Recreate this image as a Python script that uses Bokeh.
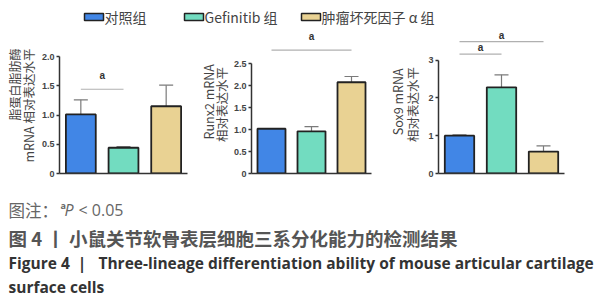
import math
from bokeh.plotting import figure
from bokeh.layouts import column, row
from bokeh.models import (ColumnDataSource, FactorRange, Range1d, Whisker, TeeHead,
                          FixedTicker, PrintfTickFormatter)
from bokeh.core.properties import value
from bokeh.embed import file_html
from bokeh.resources import INLINE

# ---------------- data ----------------
groups = ["对照组", "Gefinitib 组", "肿瘤坏死因子 α 组"]
colors = ["#4186e6", "#72dcc0", "#e9d293"]

lpl_mean = [1.01, 0.44, 1.15]
lpl_err = [0.25, 0.02, 0.36]
runx2_mean = [1.02, 0.96, 2.08]
runx2_err = [0.0, 0.11, 0.13]
sox9_mean = [1.00, 2.28, 0.58]
sox9_err = [0.02, 0.33, 0.15]

lpl_ticks = [0, 0.5, 1.0, 1.5, 2.0]
runx2_ticks = [0, 0.5, 1.0, 1.5, 2.0, 2.5]
sox9_ticks = [0, 1, 2, 3]

# significance brackets: (group index a, group index b, height)
lpl_sig = [(0, 1, 1.44)]
runx2_sig = [(0, 2, 2.81)]
sox9_sig = [(0, 1, 3.16), (0, 2, 3.49)]
sig_mark = "a"

lpl_label = ["脂蛋白脂肪酶", "mRNA 相对表达水平"]
runx2_label = ["Runx2 mRNA", "相对表达水平"]
sox9_label = ["Sox9 mRNA", "相对表达水平"]

note_prefix = "图注："
note_sup = "a"
note_p = "P"
note_rest = "< 0.05"
caption_cn = "图 4 丨 小鼠关节软骨表层细胞三系分化能力的检测结果"
caption_en1 = "Figure 4\u00a0 |\u00a0\u00a0\u00a0Three-lineage differentiation ability of mouse articular cartilage"
caption_en2 = "surface cells"

CJK = "Noto Sans CJK SC"
LAT = "Open Sans"
PH = 160  # height of the chart row


def blank(width, height):
    f = figure(width=width, height=height, x_range=Range1d(0, width),
               y_range=Range1d(height, 0), min_border=0, toolbar_location=None,
               output_backend="svg", x_axis_type=None, y_axis_type=None, title=None)
    f.xgrid.visible = False
    f.ygrid.visible = False
    f.outline_line_color = None
    return f


def label_fig(width, labels, xs, ys, aligns, sizes):
    f = blank(width, PH)
    for txt, x, y, al, sz in zip(labels, xs, ys, aligns, sizes):
        f.text(x=[x], y=[y], text=[txt], angle=math.pi / 2, text_font=value(CJK),
               text_font_size=sz, text_color="#444444", text_align=al,
               text_baseline="middle")
    return f


def make_panel(mean, err, ticks, fmt, ymax, sig, width, bl, br, a_off):
    p = figure(x_range=FactorRange(*groups, range_padding=0), y_range=Range1d(0, ymax),
               width=width, height=PH, min_border_left=bl, min_border_right=br,
               min_border_top=0, min_border_bottom=13, output_backend="svg",
               toolbar_location=None, title=None)
    src = ColumnDataSource(dict(g=groups, mean=mean, color=colors))
    p.vbar(x="g", top="mean", bottom=0, width=0.7, fill_color="color",
           line_color="#222222", line_width=1.8, source=src)
    wg = [g for g, e in zip(groups, err) if e > 0]
    wl = [m for m, e in zip(mean, err) if e > 0]
    wu = [m + e for m, e in zip(mean, err) if e > 0]
    wsrc = ColumnDataSource(dict(g=wg, lower=wl, upper=wu))
    p.add_layout(Whisker(base="g", lower="lower", upper="upper", source=wsrc,
                         line_color="#7a7a7a", line_width=1.2, lower_head=None,
                         upper_head=TeeHead(size=14, line_color="#7a7a7a", line_width=1.2)))
    x0 = [a + 0.5 for a, b, h in sig]
    x1 = [b + 0.5 for a, b, h in sig]
    hs = [h for a, b, h in sig]
    p.segment(x0=x0, y0=hs, x1=x1, y1=hs, line_color="#b0b0b0", line_width=1.2)
    p.text(x=[(u + v) / 2 for u, v in zip(x0, x1)], y=hs, text=[sig_mark] * len(sig),
           text_font=value("Liberation Sans"), text_font_style="bold",
           text_font_size="10px", text_color="#333333", text_align="center",
           text_baseline="bottom", y_offset=a_off)

    p.xgrid.visible = False
    p.ygrid.visible = False
    p.outline_line_color = None

    ya = p.yaxis[0]
    ya.ticker = FixedTicker(ticks=ticks)
    ya.formatter = PrintfTickFormatter(format=fmt)
    ya.bounds = (0, ticks[-1])
    ya.major_label_overrides = {0: "0"}
    ya.axis_line_color = "#333333"
    ya.axis_line_width = 1.5
    ya.major_tick_line_color = "#333333"
    ya.major_tick_line_width = 1.5
    ya.major_tick_in = 0
    ya.major_tick_out = 3
    ya.minor_tick_line_color = None
    ya.major_label_standoff = 2
    ya.major_label_text_font = "Liberation Sans"
    ya.major_label_text_font_style = "bold"
    ya.major_label_text_font_size = "9px"
    ya.major_label_text_color = "#444444"

    xa = p.xaxis[0]
    xa.axis_line_color = "#333333"
    xa.axis_line_width = 1.5
    xa.major_tick_line_color = None
    xa.minor_tick_line_color = None
    xa.major_label_text_font_size = "0px"
    xa.major_label_text_alpha = 0
    return p


lab1 = label_fig(38, lpl_label, [14, 28], [24, 24], ["right", "right"], ["12px", "12.5px"])
p1 = make_panel(lpl_mean, lpl_err, lpl_ticks, "%.1f", 2.513, lpl_sig, 157, 21, 8, -8)
lab2 = label_fig(35, runx2_label, [13, 26], [82, 85], ["center", "center"], ["12.5px", "12.5px"])
p2 = make_panel(runx2_mean, runx2_err, runx2_ticks, "%.1f", 3.35, runx2_sig, 155, 19, 14, -8)
lab3 = label_fig(36, sox9_label, [12, 27], [82, 85], ["center", "center"], ["12.5px", "12.5px"])
p3 = make_panel(sox9_mean, sox9_err, sox9_ticks, "%d", 3.89, sox9_sig, 184, 17, 41, -1)

# ---------------- legend ----------------
lg = blank(605, 26)
sw_left = [84, 184, 301]
lg.quad(left=sw_left, right=[l + 19 for l in sw_left], top=[13, 13, 13], bottom=[20, 20, 20],
        fill_color=colors, line_color="#222222", line_width=1.5)
lg.text(x=[l + 20 for l in sw_left], y=[16.5, 16.5, 16.5], text=groups, text_font=value(CJK),
        text_font_size="14px", text_color="#444444", text_baseline="middle")

# ---------------- caption ----------------
cap = blank(605, 114)
cap.text(x=[8], y=[23], text=[note_prefix], text_font=value(CJK), text_font_size="16.5px",
         text_color="#666666", text_baseline="middle")
cap.text(x=[60], y=[19], text=[note_sup], text_font=value(LAT), text_font_size="9px",
         text_color="#666666", text_baseline="middle", text_font_style="bold")
cap.text(x=[64], y=[23], text=[note_p], text_font=value(LAT), text_font_size="16px",
         text_color="#666666", text_baseline="middle", text_font_style="italic")
cap.text(x=[78], y=[23], text=[note_rest], text_font=value(LAT), text_font_size="16px",
         text_color="#666666", text_baseline="middle")
cap.text(x=[8], y=[51], text=[caption_cn], text_font=value(CJK), text_font_size="18.5px",
         text_color="#555555", text_baseline="middle", text_font_style="bold")
cap.text(x=[8], y=[76], text=[caption_en1], text_font=value(LAT), text_font_size="15.5px",
         text_color="#333333", text_baseline="middle", text_font_style="bold")
cap.text(x=[8], y=[100], text=[caption_en2], text_font=value(LAT), text_font_size="15.5px",
         text_color="#333333", text_baseline="middle", text_font_style="bold")

layout = column(lg, row(lab1, p1, lab2, p2, lab3, p3), cap)
open("out.html", "w").write(file_html(layout, INLINE))
